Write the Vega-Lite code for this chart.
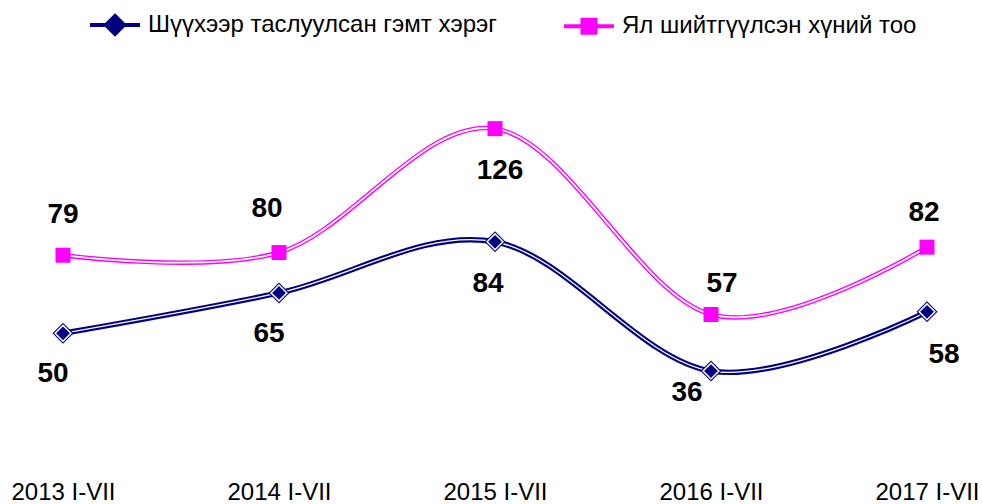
{
  "$schema": "https://vega.github.io/schema/vega-lite/v6.json",
  "width": 864,
  "height": 404,
  "autosize": {"type": "none"},
  "padding": {"left": 63, "right": 55, "top": 64, "bottom": 36},
  "background": "white",
  "config": {"view": {"stroke": null}, "font": "Liberation Sans"},
  "data": {
    "values": [
      {"year": "2013 I-VII", "series": "Шүүхээр таслуулсан гэмт хэрэг", "value": 50},
      {"year": "2014 I-VII", "series": "Шүүхээр таслуулсан гэмт хэрэг", "value": 65},
      {"year": "2015 I-VII", "series": "Шүүхээр таслуулсан гэмт хэрэг", "value": 84},
      {"year": "2016 I-VII", "series": "Шүүхээр таслуулсан гэмт хэрэг", "value": 36},
      {"year": "2017 I-VII", "series": "Шүүхээр таслуулсан гэмт хэрэг", "value": 58},
      {"year": "2013 I-VII", "series": "Ял шийтгүүлсэн хүний тоо", "value": 79},
      {"year": "2014 I-VII", "series": "Ял шийтгүүлсэн хүний тоо", "value": 80},
      {"year": "2015 I-VII", "series": "Ял шийтгүүлсэн хүний тоо", "value": 126},
      {"year": "2016 I-VII", "series": "Ял шийтгүүлсэн хүний тоо", "value": 57},
      {"year": "2017 I-VII", "series": "Ял шийтгүүлсэн хүний тоо", "value": 82}
    ]
  },
  "encoding": {
    "x": {"field": "year", "type": "ordinal", "scale": {"type": "point", "padding": 0},
      "axis": {"title": null, "domain": false, "ticks": false, "grid": false, "labelAngle": 0,
        "labelFontSize": 24, "labelColor": "black", "labelPadding": 12, "labelFont": "Liberation Sans"}},
    "y": {"field": "value", "type": "quantitative", "scale": {"domain": [0, 150], "nice": false, "zero": true}, "axis": null}
  },
  "layer": [
    {
      "mark": {"type": "line", "interpolate": "cardinal"},
      "encoding": {
        "color": {"field": "series", "type": "nominal",
          "scale": {"domain": ["Шүүхээр таслуулсан гэмт хэрэг", "Ял шийтгүүлсэн хүний тоо"], "range": ["#000080", "#FF00FF"]},
          "legend": {"orient": "none", "legendX": 25, "legendY": -66, "direction": "horizontal", "title": null,
            "labelFontSize": 24, "labelFont": "Liberation Sans", "labelColor": "black", "labelLimit": 0,
            "symbolSize": 2500, "symbolStrokeWidth": 4, "labelOffset": 6, "columnPadding": 58, "padding": 0,
            "encode": {"symbols": {"update": {
              "shape": {"signal": "datum.value === 'Ял шийтгүүлсэн хүний тоо' ? 'M-1,0H1M-0.26,-0.26H0.26V0.26H-0.26Z' : 'M-1,0H1M0,-0.36L0.36,0L0,0.36L-0.36,0Z'"},
              "fill": {"signal": "datum.value === 'Ял шийтгүүлсэн хүний тоо' ? '#FF00FF' : '#000080'"},
              "opacity": {"value": 1}
            }}}}},
        "strokeWidth": {"field": "series", "type": "nominal",
          "scale": {"domain": ["Шүүхээр таслуулсан гэмт хэрэг", "Ял шийтгүүлсэн хүний тоо"], "range": [5.5, 4.5]}, "legend": null}
      }
    },
    {
      "mark": {"type": "line", "interpolate": "cardinal", "color": "white"},
      "encoding": {
        "detail": {"field": "series", "type": "nominal"},
        "strokeWidth": {"field": "series", "type": "nominal",
          "scale": {"domain": ["Шүүхээр таслуулсан гэмт хэрэг", "Ял шийтгүүлсэн хүний тоо"], "range": [1.3, 1.8]}, "legend": null}
      }
    },
    {
      "transform": [{"filter": "datum.series === 'Ял шийтгүүлсэн хүний тоо'"}],
      "mark": {"type": "point", "shape": "square", "filled": true, "size": 225, "color": "#FF00FF", "opacity": 1}
    },
    {
      "transform": [{"filter": "datum.series === 'Шүүхээр таслуулсан гэмт хэрэг'"}],
      "mark": {"type": "point", "shape": "diamond", "filled": true, "size": 440, "color": "#000080", "opacity": 1}
    },
    {
      "transform": [{"filter": "datum.series === 'Шүүхээр таслуулсан гэмт хэрэг'"}],
      "mark": {"type": "point", "shape": "diamond", "filled": true, "size": 250, "fill": "#000080", "stroke": "white", "strokeWidth": 1.5, "opacity": 1}
    },
    {
      "transform": [{"filter": "datum.value === 79"}],
      "mark": {"type": "text", "fontSize": 28, "fontWeight": "bold", "color": "black", "dy": -40},
      "encoding": {"text": {"field": "value", "type": "quantitative"}}
    },
    {
      "transform": [{"filter": "datum.value === 80"}],
      "mark": {"type": "text", "fontSize": 28, "fontWeight": "bold", "color": "black", "dy": -44, "dx": -12},
      "encoding": {"text": {"field": "value", "type": "quantitative"}}
    },
    {
      "transform": [{"filter": "datum.value === 82"}],
      "mark": {"type": "text", "fontSize": 28, "fontWeight": "bold", "color": "black", "dy": -34, "dx": -3},
      "encoding": {"text": {"field": "value", "type": "quantitative"}}
    },
    {
      "transform": [{"filter": "datum.value === 57"}],
      "mark": {"type": "text", "fontSize": 28, "fontWeight": "bold", "color": "black", "dy": -30, "dx": 11},
      "encoding": {"text": {"field": "value", "type": "quantitative"}}
    },
    {
      "transform": [{"filter": "datum.value === 126"}],
      "mark": {"type": "text", "fontSize": 28, "fontWeight": "bold", "color": "black", "dy": 42, "dx": 5},
      "encoding": {"text": {"field": "value", "type": "quantitative"}}
    },
    {
      "transform": [{"filter": "datum.value === 50 || datum.value === 65"}],
      "mark": {"type": "text", "fontSize": 28, "fontWeight": "bold", "color": "black", "dy": 41, "dx": -10},
      "encoding": {"text": {"field": "value", "type": "quantitative"}}
    },
    {
      "transform": [{"filter": "datum.value === 84"}],
      "mark": {"type": "text", "fontSize": 28, "fontWeight": "bold", "color": "black", "dy": 42, "dx": -7},
      "encoding": {"text": {"field": "value", "type": "quantitative"}}
    },
    {
      "transform": [{"filter": "datum.value === 36"}],
      "mark": {"type": "text", "fontSize": 28, "fontWeight": "bold", "color": "black", "dy": 22, "dx": -24},
      "encoding": {"text": {"field": "value", "type": "quantitative"}}
    },
    {
      "transform": [{"filter": "datum.value === 58"}],
      "mark": {"type": "text", "fontSize": 28, "fontWeight": "bold", "color": "black", "dy": 43, "dx": 17},
      "encoding": {"text": {"field": "value", "type": "quantitative"}}
    }
  ],
  "resolve": {"scale": {"strokeWidth": "independent"}}
}
